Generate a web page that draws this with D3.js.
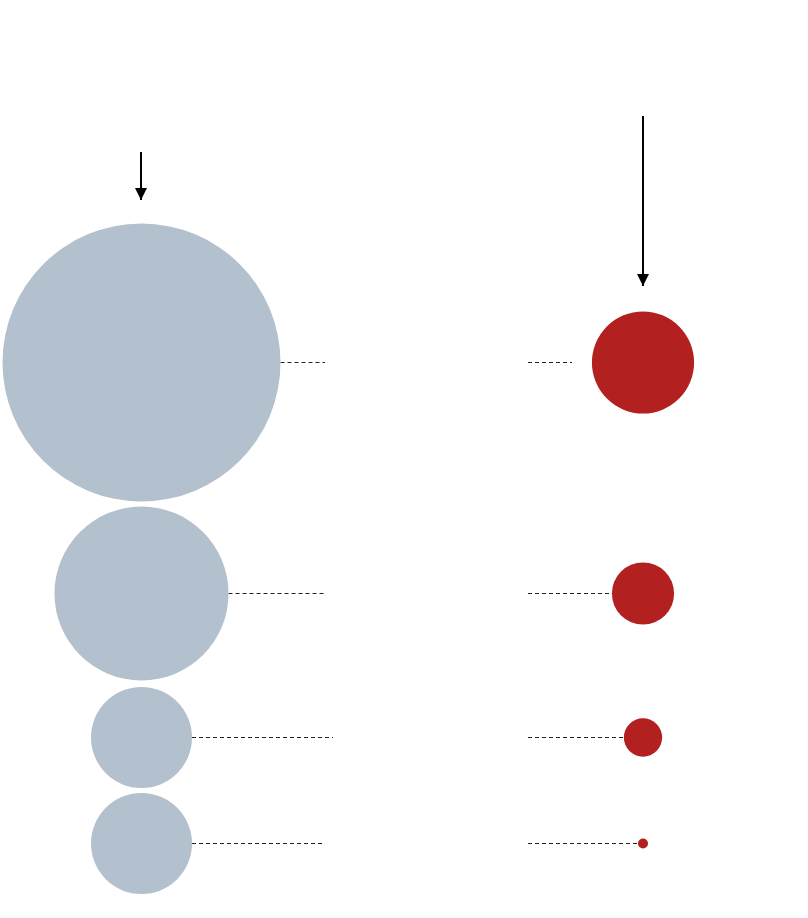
<!DOCTYPE html>
<html>
<head>
<meta charset="utf-8">
<script src="https://cdn.jsdelivr.net/npm/d3@7"></script>
<style>
  html, body { margin: 0; padding: 0; background: #fff; }
  svg { display: block; }
</style>
</head>
<body>
<svg id="chart" width="808" height="918"></svg>
<script>
// ---- data ----
const rows = ["A", "B", "C", "D"];
const leftValues = [100, 39.2, 13.2, 13.2];
const rightValues = [13.5, 5.0, 1.9, 0.13];
const arrowValues = [48, 170]; // left, right arrow lengths (relative)

// ---- layout ----
const svg = d3.select("#chart");
const leftX = 141.5, rightX = 643;
const rowY = [362.5, 593.5, 737.5, 843.5];
const r = d3.scaleSqrt().domain([0, 100]).range([0, 139]);
const leftLineEnd = [325, 325, 333, 325];
const rightLineStart = 528;
const rightLineMaxEnd = 572;

const defs = svg.append("defs");
defs.append("marker")
  .attr("id", "head")
  .attr("viewBox", "0 0 10 10")
  .attr("refX", 10).attr("refY", 5)
  .attr("markerWidth", 14).attr("markerHeight", 12)
  .attr("markerUnits", "userSpaceOnUse")
  .attr("orient", "auto")
  .append("path").attr("d", "M0,0 L10,5 L0,10 Z").attr("fill", "#000");

const arrowLen = d3.scaleLinear().domain([0, 170]).range([0, 170]);
svg.append("line")
  .attr("x1", 141).attr("x2", 141)
  .attr("y1", 200 - arrowLen(arrowValues[0])).attr("y2", 200)
  .attr("stroke", "#000").attr("stroke-width", 2)
  .attr("marker-end", "url(#head)");
svg.append("line")
  .attr("x1", rightX).attr("x2", rightX)
  .attr("y1", 286 - arrowLen(arrowValues[1])).attr("y2", 286)
  .attr("stroke", "#000").attr("stroke-width", 2)
  .attr("marker-end", "url(#head)");

// dashed lines
rows.forEach((d, i) => {
  const cy = Math.floor(rowY[i]) + 0.5;
  svg.append("line")
    .attr("x1", leftX + r(leftValues[i])).attr("x2", leftLineEnd[i])
    .attr("y1", cy).attr("y2", cy)
    .attr("stroke", "#222").attr("stroke-width", 1)
    .attr("stroke-dasharray", "4,3");
  const rr = r(rightValues[i]);
  const end = rr > 45 ? rightLineMaxEnd : rightX - rr;
  svg.append("line")
    .attr("x1", rightLineStart).attr("x2", end)
    .attr("y1", cy).attr("y2", cy)
    .attr("stroke", "#222").attr("stroke-width", 1)
    .attr("stroke-dasharray", "4,3");
});

// circles
svg.selectAll("circle.left").data(leftValues).join("circle")
  .attr("class", "left")
  .attr("cx", leftX).attr("cy", (d, i) => rowY[i])
  .attr("r", d => r(d))
  .attr("fill", "#b3c0cd");
svg.selectAll("circle.right").data(rightValues).join("circle")
  .attr("class", "right")
  .attr("cx", rightX).attr("cy", (d, i) => rowY[i])
  .attr("r", d => r(d))
  .attr("fill", "#b22020");
</script>
</body>
</html>
